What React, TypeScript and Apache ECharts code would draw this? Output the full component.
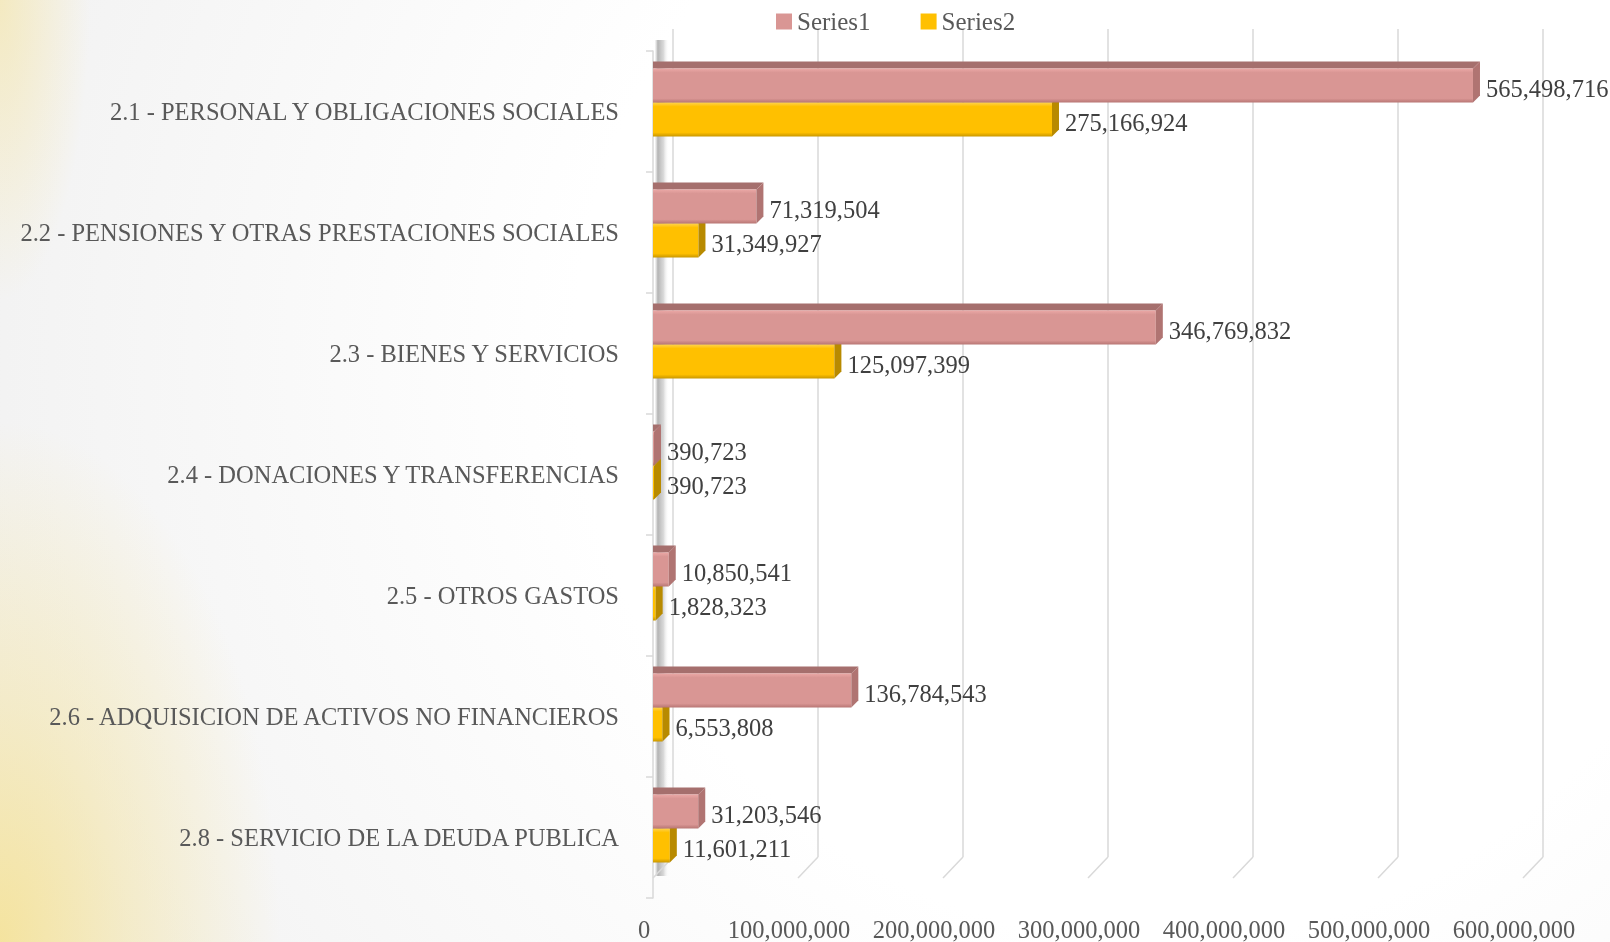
import React, { useEffect, useRef } from "react";
import * as echarts from "echarts";

const categories = [
  "2.1 - PERSONAL Y OBLIGACIONES SOCIALES",
  "2.2 - PENSIONES Y OTRAS PRESTACIONES SOCIALES",
  "2.3 - BIENES Y SERVICIOS",
  "2.4 - DONACIONES Y TRANSFERENCIAS",
  "2.5 - OTROS GASTOS",
  "2.6 - ADQUISICION DE ACTIVOS NO FINANCIEROS",
  "2.8 - SERVICIO DE LA DEUDA PUBLICA",
];
const series1 = [565498716, 71319504, 346769832, 390723, 10850541, 136784543, 31203546];
const series2 = [275166924, 31349927, 125097399, 390723, 1828323, 6553808, 11601211];
const seriesNames = ["Series1", "Series2"];
const axisMin = 0;
const axisMax = 600000000;
const axisInterval = 100000000;
const tickValues = [0, 100000000, 200000000, 300000000, 400000000, 500000000, 600000000];

const FONT = '"Liberation Serif", "Times New Roman", serif';
const fmt = (v: number) => v.toLocaleString("en-US");

const palette = [
  { front: ["#EBA8A6", "#D99694", "#D99694", "#B87674"], top: "#A56F6D", end: "#B07472" },
  { front: ["#FFD34D", "#FFC000", "#FFC000", "#C99700"], top: "#B58700", end: "#B88A00" },
];

export default function App() {
  const ref = useRef<HTMLDivElement>(null);
  useEffect(() => {
    if (!ref.current) return;
    const chart = echarts.init(ref.current, null, { renderer: "svg" });
    const BAR = 34;
    const D = 7;
    const SHIFT = 9;
    const makeBar = (si: number) => (params: any, api: any) => {
      const v = api.value(0);
      const ci = api.value(1);
      const p1 = api.coord([v, ci]);
      const p0 = api.coord([0, ci]);
      const x0 = p0[0];
      const x1 = Math.max(p1[0], x0 + 1);
      const center = p1[1] - SHIFT;
      const top = si === 0 ? center - BAR : center;
      const bottom = top + BAR;
      const pal = palette[si];
      return {
        type: "group",
        children: [
          {
            type: "polygon",
            shape: { points: [[x0, top], [x1, top], [x1 + D, top - D], [x0, top - D]] },
            style: { fill: pal.top },
          },
          {
            type: "rect",
            shape: { x: x0, y: top, width: x1 - x0, height: BAR },
            style: {
              fill: new echarts.graphic.LinearGradient(0, 0, 0, 1, [
                { offset: 0, color: pal.front[0] },
                { offset: 0.12, color: pal.front[1] },
                { offset: 0.88, color: pal.front[2] },
                { offset: 1, color: pal.front[3] },
              ]),
            },
          },
          {
            type: "polygon",
            shape: { points: [[x1, top], [x1 + D, top - D], [x1 + D, bottom - D], [x1, bottom]] },
            style: { fill: pal.end },
          },
          {
            type: "text",
            style: {
              text: fmt(v),
              x: x1 + D + 6,
              y: top + BAR / 2 + 3,
              fill: "#404040",
              fontSize: 24.5,
              fontFamily: FONT,
              verticalAlign: "middle",
              align: "left",
            },
          },
        ],
      };
    };

    const option: any = {
      animation: false,
      backgroundColor: "transparent",
      legend: {
        data: seriesNames,
        left: 771,
        top: 4,
        icon: "rect",
        itemWidth: 16,
        itemHeight: 16,
        itemGap: 50,
        textStyle: { fontSize: 25, fontFamily: FONT, color: "#595959" },
      },
      grid: [
        { left: 653, right: 87, top: 51, bottom: 44, containLabel: false },
        { left: 673, right: 67, top: 29, bottom: 85, containLabel: false },
      ],
      xAxis: [
        {
          gridIndex: 0,
          type: "value",
          min: axisMin,
          max: axisMax,
          interval: axisInterval,
          axisLine: { show: false },
          axisTick: { show: false },
          splitLine: { show: false },
          axisLabel: {
            color: "#595959",
            fontSize: 24.5,
            fontFamily: FONT,
            margin: 19,
            padding: [0, 18, 0, 0],
            formatter: (v: number) => fmt(v),
          },
        },
        {
          gridIndex: 1,
          type: "value",
          min: axisMin,
          max: axisMax,
          interval: axisInterval,
          axisLine: { show: false },
          axisTick: { show: false },
          axisLabel: { show: false },
          splitLine: { show: true, lineStyle: { color: "#D9D9D9", width: 1.5 } },
        },
      ],
      yAxis: [
        {
          gridIndex: 0,
          type: "category",
          data: categories,
          inverse: true,
          offset: 10,
          axisLine: { show: true, lineStyle: { color: "#D9D9D9", width: 1.5 } },
          axisTick: { show: true, length: 7, lineStyle: { color: "#D9D9D9", width: 1.5 } },
          axisLabel: {
            color: "#595959",
            fontSize: 24.5,
            fontFamily: FONT,
            margin: 24,
          },
          splitLine: { show: false },
        },
        {
          gridIndex: 1,
          type: "category",
          data: categories,
          inverse: true,
          show: false,
        },
      ],
      series: [
        {
          type: "custom",
          name: "floor",
          xAxisIndex: 1,
          yAxisIndex: 1,
          silent: true,
          z: 1,
          data: tickValues.map((t) => [t, 0]),
          encode: { x: 0, y: 1 },
          renderItem: (params: any, api: any) => {
            const x = api.coord([api.value(0), 0])[0];
            const cs = params.coordSys;
            const yb = cs.y + cs.height;
            return {
              type: "line",
              shape: { x1: x, y1: yb, x2: x - 20, y2: yb + 21 },
              style: { stroke: "#D9D9D9", lineWidth: 1.5 },
            };
          },
        },
        {
          type: "custom",
          name: seriesNames[1],
          xAxisIndex: 0,
          yAxisIndex: 0,
          z: 2,
          itemStyle: { color: "#FFC000" },
          data: series2.map((v, i) => [v, i]),
          encode: { x: 0, y: 1 },
          renderItem: makeBar(1),
        },
        {
          type: "custom",
          name: seriesNames[0],
          xAxisIndex: 0,
          yAxisIndex: 0,
          z: 3,
          itemStyle: { color: "#D99694" },
          data: series1.map((v, i) => [v, i]),
          encode: { x: 0, y: 1 },
          renderItem: makeBar(0),
        },
      ],
      graphic: [
        {
          type: "rect",
          z: 0,
          silent: true,
          shape: { x: 655, y: 40, width: 14, height: 836 },
          style: {
            fill: new echarts.graphic.LinearGradient(1, 0, 0, 0, [
              { offset: 0, color: "rgba(255,255,255,0)" },
              { offset: 0.4, color: "rgba(190,190,190,0.6)" },
              { offset: 0.8, color: "rgba(160,160,160,0.8)" },
              { offset: 1, color: "rgba(230,230,230,0.4)" },
            ]),
          },
        },
      ],
    };
    chart.setOption(option);
    return () => chart.dispose();
  }, []);

  return (
    <div
      style={{
        position: "fixed",
        left: 0,
        top: 0,
        width: 1610,
        height: 942,
        background:
          "radial-gradient(ellipse 280px 520px at 0% 100%, rgba(245,226,150,0.9) 0%, rgba(245,226,150,0.45) 45%, rgba(245,226,150,0) 100%), radial-gradient(ellipse 90px 300px at 0% 0%, rgba(245,228,160,0.6) 0%, rgba(245,228,160,0) 100%), radial-gradient(circle at 72% 38%, #ffffff 45%, #f0f0f0 100%)",
      }}
    >
      <div ref={ref} style={{ width: 1610, height: 942 }} />
    </div>
  );
}
